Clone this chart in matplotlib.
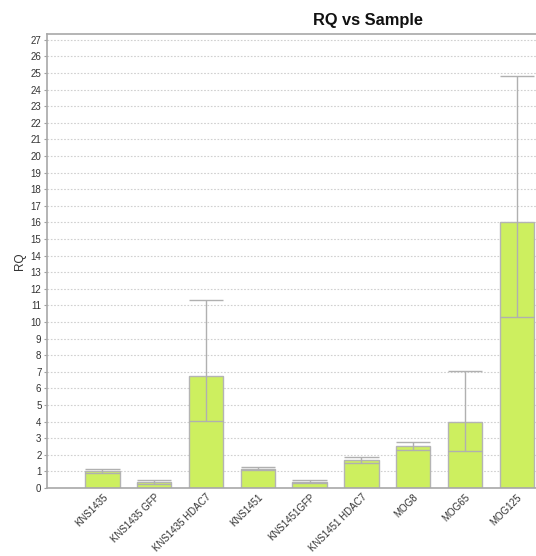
import matplotlib
matplotlib.use("Agg")
import matplotlib.pyplot as plt
import numpy as np

samples = ['KNS1435', 'KNS1435 GFP', 'KNS1435 HDAC7', 'KNS1451', 'KNS1451GFP',
           'KNS1451 HDAC7', 'MOG8', 'MOG65', 'MOG125']
rq = [1.04, 0.34, 6.75, 1.16, 0.38, 1.70, 2.54, 3.96, 16.0]
rq_min = [0.93, 0.25, 4.02, 1.06, 0.30, 1.52, 2.27, 2.22, 10.28]
rq_max = [1.14, 0.48, 11.3, 1.26, 0.50, 1.86, 2.80, 7.05, 24.8]
yticks = list(range(0, 28))

plt.rcParams['font.family'] = ['Liberation Sans', 'DejaVu Sans']

W, H = 536, 556
fig = plt.figure(figsize=(W / 100, H / 100), dpi=100)
left, right, top, bottom = 47, 536, 34, 488
ax = fig.add_axes([left / W, (H - bottom) / H, (right - left) / W, (bottom - top) / H])

x = np.arange(len(samples))
bw = 0.666
bar_color = '#cdef5f'
edge = '#b4b4b4'
err_color = '#b0b0b0'

ax.bar(x, rq, width=bw, color=bar_color, edgecolor=edge, linewidth=1.0, zorder=2)
ax.vlines(x, rq_min, rq_max, color=err_color, linewidth=1.0, zorder=3)
ax.hlines(rq_max, x - bw / 2, x + bw / 2, color=err_color, linewidth=1.0, zorder=3)
ax.hlines(rq_min, x - bw / 2, x + bw / 2, color=err_color, linewidth=1.0, zorder=3)

ax.set_xlim(-1.07, 8.37)
ax.set_ylim(0, 27.35)
ax.set_yticks(yticks)
ax.set_yticklabels([str(v) for v in yticks], fontsize=7, color='#333333')
ax.set_xticks(x)
ax.set_xticklabels(samples, rotation=45, ha='right', va='top', rotation_mode='anchor',
                   fontsize=7, color='#333333')
ax.tick_params(axis='y', length=2, width=0.8, color='#a0a0a0', pad=2)
ax.tick_params(axis='x', length=0, pad=3)

ax.grid(axis='y', color='#d0d0d0', linestyle=(0, (1.5, 1.5)), linewidth=0.8, zorder=0)
ax.set_axisbelow(True)

for s in ['left', 'bottom', 'top']:
    ax.spines[s].set_color('#a8a8a8')
    ax.spines[s].set_linewidth(1.2)
ax.spines['right'].set_visible(False)

ax.set_ylabel('RQ', fontsize=8.5, color='#333333', labelpad=3)

fig.text(368 / W, 1 - 20 / H, 'RQ vs Sample', ha='center', va='center',
         fontsize=11.8, fontweight='bold', color='#111111')

fig.savefig('out.png', dpi=100, facecolor='white')
